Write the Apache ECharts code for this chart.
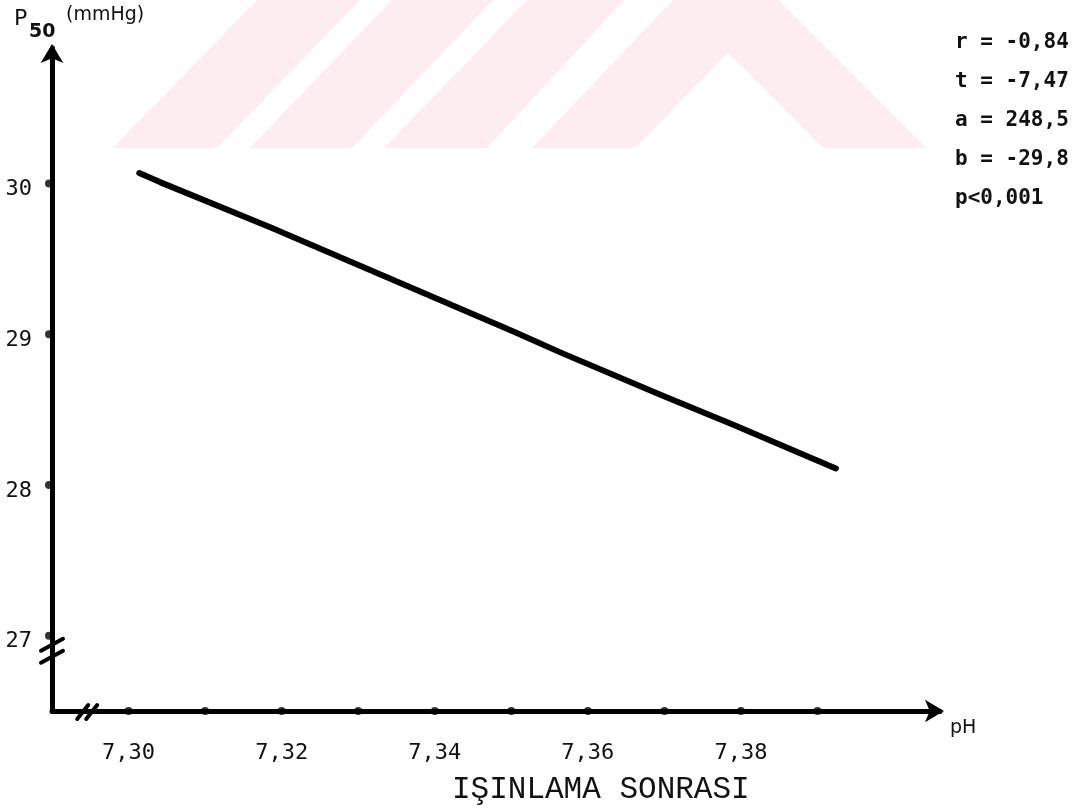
<!DOCTYPE html>
<html>
<head>
<meta charset="utf-8">
<script src="https://cdn.jsdelivr.net/npm/echarts@6/dist/echarts.min.js"></script>
<style>
  html, body { margin: 0; padding: 0; background: #ffffff; }
  #chart { width: 1088px; height: 810px; }
</style>
</head>
<body>
<div id="chart"></div>
<script>
// Regression line of P50 against pH
const phValues   = [7.3014, 7.3041, 7.3185, 7.3355, 7.3502, 7.3564, 7.3694, 7.3790, 7.3924];
const p50Values  = [30.07, 30.01, 29.71, 29.34, 29.02, 28.88, 28.60, 28.40, 28.11];

// Axis ticks and labels
const xTickValues  = [7.30, 7.31, 7.32, 7.33, 7.34, 7.35, 7.36, 7.37, 7.38, 7.39];
const xLabelValues = [7.30, 7.32, 7.34, 7.36, 7.38];
const xLabelTexts  = ['7,30', '7,32', '7,34', '7,36', '7,38'];
const yTickValues  = [27, 28, 29, 30];

// Statistics printed at the upper right
const statLines = ['r = -0,84', 't = -7,47', 'a = 248,5', 'b = -29,8', 'p<0,001'];

const xTitle = 'IŞINLAMA SONRASI';
const xName = 'pH';

const X_MIN = 7.29, X_MAX = 7.406;
const Y_MIN = 26.5, Y_MAX = 30.9;

const chart = echarts.init(document.getElementById('chart'), null, { renderer: 'canvas' });

const monoFont = '"DejaVu Sans Mono", "Liberation Mono", monospace';
const sansFont = '"DejaVu Sans", "Liberation Sans", sans-serif';

function xLabel(v) {
  for (let i = 0; i < xLabelValues.length; i++) {
    if (Math.abs(v - xLabelValues[i]) < 1e-6) return xLabelTexts[i];
  }
  return '';
}

// Pale striped band behind the top of the page
const bandColor = '#fdedf0';
const bands = [
  [[113,148],[217,148],[360,0],[257,0]],
  [[250,148],[352,148],[493,0],[392,0]],
  [[384,148],[487,148],[624,0],[527,0]],
  [[532,148],[635,148],[779,0],[673,0]],
  [[676,0],[779,0],[926,148],[823,148]]
];

const option = {
  backgroundColor: '#ffffff',
  animation: false,
  grid: { left: 52, right: 148, top: 48, bottom: 99, containLabel: false },
  xAxis: {
    type: 'value',
    min: X_MIN,
    max: X_MAX,
    interval: 0.01,
    name: xName,
    nameLocation: 'end',
    nameGap: 10,
    nameTextStyle: {
      fontFamily: sansFont, fontSize: 19, color: '#111',
      verticalAlign: 'top', padding: [8, 0, 0, 0]
    },
    axisLine: {
      show: true,
      lineStyle: { color: '#000', width: 5 },
      symbol: ['none', 'arrow'],
      symbolSize: [17, 19],
      symbolOffset: [0, 4]
    },
    axisTick: { show: false },
    splitLine: { show: false },
    axisLabel: {
      margin: 31,
      fontFamily: monoFont,
      fontSize: 22,
      color: '#111',
      showMinLabel: true,
      showMaxLabel: false,
      formatter: xLabel
    }
  },
  yAxis: {
    type: 'value',
    min: Y_MIN,
    max: Y_MAX,
    interval: 0.5,
    axisLine: {
      show: true,
      lineStyle: { color: '#000', width: 5 },
      symbol: ['none', 'arrow'],
      symbolSize: [17, 19],
      symbolOffset: [0, 4]
    },
    axisTick: { show: false },
    splitLine: { show: false },
    axisLabel: {
      margin: 20,
      fontFamily: monoFont,
      fontSize: 22,
      color: '#111',
      verticalAlign: 'top',
      padding: [-5, 0, 0, 0],
      formatter: function (v) {
        return yTickValues.indexOf(v) >= 0 ? String(v) : '';
      }
    }
  },
  series: [
    {
      name: 'P50',
      type: 'line',
      data: phValues.map((x, i) => [x, p50Values[i]]),
      showSymbol: false,
      lineStyle: { color: '#000', width: 6, cap: 'round', join: 'round' },
      z: 5
    },
    {
      name: 'xTicks',
      type: 'scatter',
      data: xTickValues.map(v => [v, Y_MIN]),
      symbol: 'circle',
      symbolSize: 8,
      itemStyle: { color: '#000' },
      clip: false,
      z: 6
    },
    {
      name: 'yTicks',
      type: 'scatter',
      data: yTickValues.map(v => [X_MIN, v]),
      symbol: 'circle',
      symbolSize: 8,
      symbolOffset: [-3, 0],
      itemStyle: { color: '#000' },
      clip: false,
      z: 6
    }
  ]
};

chart.setOption(option);

// Decorations placed from the axes' own scales
const g = [];

bands.forEach(pts => {
  g.push({
    type: 'polygon', z: -10, silent: true,
    shape: { points: pts },
    style: { fill: bandColor }
  });
});

// Axis break marks
const xb = chart.convertToPixel({ gridIndex: 0 }, [7.2946, Y_MIN]);
[-4, 5].forEach(dx => {
  g.push({
    type: 'line', z: 20,
    shape: { x1: xb[0] + dx - 6, y1: xb[1] + 8, x2: xb[0] + dx + 5, y2: xb[1] - 6 },
    style: { stroke: '#000', lineWidth: 4, lineCap: 'round' }
  });
});
const yb = chart.convertToPixel({ gridIndex: 0 }, [X_MIN, 26.9]);
[-6, 6].forEach(dy => {
  g.push({
    type: 'line', z: 20,
    shape: { x1: yb[0] - 11, y1: yb[1] + dy + 6, x2: yb[0] + 11, y2: yb[1] + dy - 6 },
    style: { stroke: '#000', lineWidth: 4, lineCap: 'round' }
  });
});

// Y axis name: P50 (mmHg)
g.push({ type: 'text', left: 14, top: 8, z: 30,
  style: { text: 'P', fontSize: 22, fontFamily: sansFont, fill: '#111' } });
g.push({ type: 'text', left: 29, top: 23, z: 30,
  style: { text: '50', fontSize: 19, fontWeight: 'bold', fontFamily: sansFont, fill: '#111' } });
g.push({ type: 'text', left: 66, top: 6, z: 30,
  style: { text: '(mmHg)', fontSize: 19, fontFamily: sansFont, fill: '#111' } });

// Statistics block
statLines.forEach((t, i) => {
  g.push({ type: 'text', left: 955, top: 32 + i * 39, z: 30,
    style: { text: t, fontSize: 21, fontWeight: 'bold', fontFamily: monoFont, fill: '#111' } });
});

// Bottom caption
g.push({ type: 'text', left: 452, top: 774, z: 30,
  style: { text: xTitle, fontSize: 31, fontFamily: '"Liberation Mono", monospace', fill: '#111' } });

chart.setOption({ graphic: g });
</script>
</body>
</html>
